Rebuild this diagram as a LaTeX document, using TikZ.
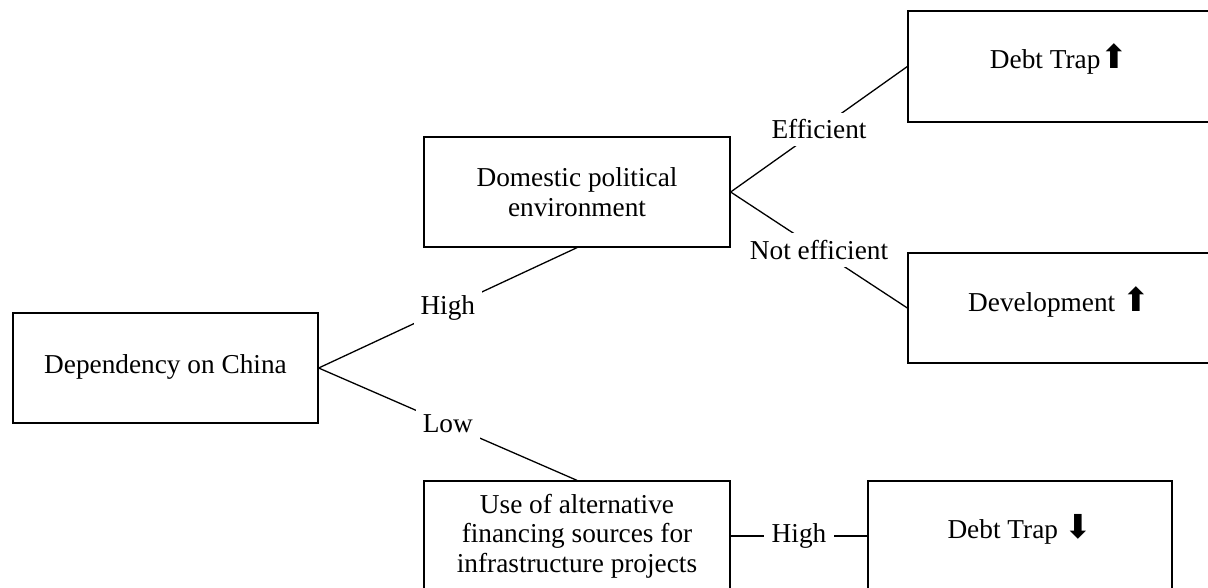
\documentclass[tikz,border=0pt]{standalone}
\usepackage{fontspec}
\setmainfont{Liberation Serif}
\newfontfamily\symfont{DejaVu Sans}
\newcommand\uparr{{\symfont\fontsize{33}{33}\selectfont ⬆}}
\newcommand\downarr{{\symfont\fontsize{33}{33}\selectfont ⬇}}
\begin{document}
\begin{tikzpicture}[x=1pt,y=-1pt,
  box/.style={draw, line width=1.3pt, minimum width=305pt, minimum height=110pt,
    inner sep=0pt, font=\fontsize{27.3}{29.5}\selectfont},
  lbl/.style={fill=white, inner sep=7pt, font=\fontsize{27.3}{29.5}\selectfont},
  conn/.style={line width=1.3pt}]
\useasboundingbox (0,0) rectangle (1208,587);
\clip (0,0) rectangle (1208,587);
\node[box, text height=20pt, text depth=10pt] (dep) at (165.5,368) {Dependency on China};
\node[box, align=center, minimum width=306pt] (dom) at (577,192) {Domestic political\\environment};
\node[box, minimum width=302pt, minimum height=111pt, text height=20pt, text depth=17pt] (dtu) at (1059,66.5) {Debt Trap\uparr};
\node[box, minimum width=302pt, text height=20pt, text depth=14pt] (dev) at (1059,308) {Development \uparr};
\node[box, align=center, minimum width=306pt] (alt) at (577,536) {Use of alternative\\financing sources for\\infrastructure projects};
\node[box, minimum width=304pt, text height=20pt, text depth=16pt] (dtd) at (1020,536) {Debt Trap \downarr};
\draw[conn] (dep.east) -- node[lbl] {High} (dom.south);
\draw[conn] (dep.east) -- node[lbl] {Low} (alt.north);
\draw[conn] (dom.east) -- node[lbl] {Efficient} (dtu.west);
\draw[conn] (dom.east) -- node[lbl] {Not efficient} (dev.west);
\draw[conn] (alt.east) -- node[lbl, inner sep=8pt] {High} (dtd.west);
\end{tikzpicture}
\end{document}
